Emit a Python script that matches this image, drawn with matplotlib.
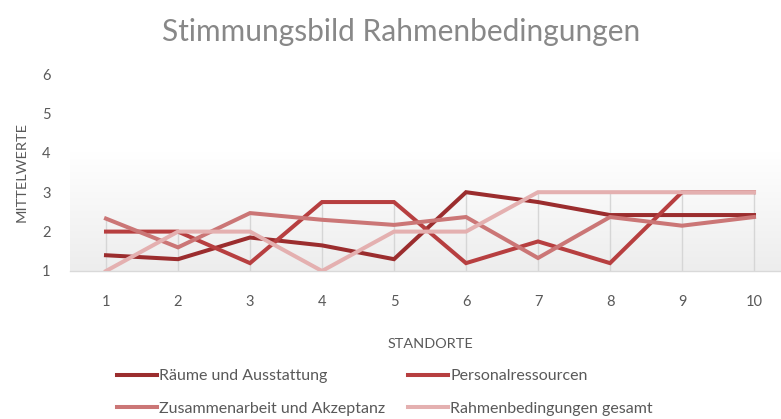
import numpy as np
import matplotlib
matplotlib.use('Agg')
import matplotlib.pyplot as plt
import matplotlib.colors as mcolors

# ================================ 数据 ================================
standorte = [1, 2, 3, 4, 5, 6, 7, 8, 9, 10]
raeume = [1.4, 1.3, 1.85, 1.65, 1.3, 3.0, 2.75, 2.42, 2.42, 2.42]
personal = [2.0, 2.0, 1.2, 2.75, 2.75, 1.2, 1.75, 1.2, 3.0, 3.0]
zusammenarbeit = [2.33, 1.6, 2.47, 2.3, 2.17, 2.37, 1.33, 2.37, 2.15, 2.37]
gesamt = [1.0, 2.0, 2.0, 1.0, 2.0, 2.0, 3.0, 3.0, 3.0, 3.0]

namen = ['Räume und Ausstattung', 'Personalressourcen',
         'Zusammenarbeit und Akzeptanz', 'Rahmenbedingungen gesamt']
farben = ['#9b2d2e', '#b73f40', '#cb7676', '#e4b0b0']

# ================================ 绘图 ================================
plt.rcParams['font.family'] = ['Lato', 'DejaVu Sans']
textfarbe = '#595959'

fig = plt.figure(figsize=(7.81, 4.19), dpi=100)
# Plotbereich (Pixel: links 70, rechts ~790, unten 271, oben 74)
ax = fig.add_axes([70 / 781, (419 - 271) / 419, 720 / 781, 197 / 419])
ax.set_xlim(0.5, 10.5)
ax.set_ylim(1, 6)

# Hintergrund-Verlauf
verlauf = np.linspace(0, 1, 256).reshape(-1, 1)
cmap_bg = mcolors.LinearSegmentedColormap.from_list(
    'bg', [(0, '#ededed'), (0.6, '#ffffff'), (1, '#ffffff')])
ax.imshow(verlauf, cmap=cmap_bg, origin='lower', aspect='auto',
          extent=[0.5, 10.5, 1, 6], zorder=0)

# Lotlinien bis zum höchsten Wert
maxima = np.max([raeume, personal, zusammenarbeit, gesamt], axis=0)
ax.vlines(standorte, 1, maxima, color='#d6d6d6', lw=1, zorder=1)

# Linien
linien = []
for werte, name, farbe in zip([raeume, personal, zusammenarbeit, gesamt], namen, farben):
    l, = ax.plot(standorte, werte, color=farbe, lw=2.9, label=name, zorder=3,
                 solid_joinstyle='miter')
    linien.append(l)

# Achsen
for s in ['top', 'right', 'left']:
    ax.spines[s].set_visible(False)
ax.spines['bottom'].set_color('#d9d9d9')
ax.spines['bottom'].set_linewidth(1)
ax.set_xticks(standorte)
ax.set_yticks([1, 2, 3, 4, 5, 6])
ax.tick_params(axis='both', length=0, labelsize=10.5, labelcolor=textfarbe)
ax.tick_params(axis='x', pad=17)
ax.tick_params(axis='y', pad=14)
ax.set_xlabel('STANDORTE', fontsize=10.4, color=textfarbe, labelpad=21)
ax.set_ylabel('MITTELWERTE', fontsize=10.4, color=textfarbe, labelpad=10)

fig.text(0.513, 0.924, 'Stimmungsbild Rahmenbedingungen', ha='center', va='center',
         fontsize=21.5, color='#888888')

# Legende (Reihenfolge zeilenweise wie im Original)
reihenfolge = [0, 2, 1, 3]
fig.legend([linien[i] for i in reihenfolge], [namen[i] for i in reihenfolge],
           loc='upper left', bbox_to_anchor=(117 / 781, 1 - 369 / 419), ncol=2,
           frameon=False, fontsize=11.5, handlelength=2.5, handletextpad=0.15,
           columnspacing=1.4, labelspacing=1.15, borderpad=0, borderaxespad=0,
           labelcolor=textfarbe)

fig.savefig('out.png', dpi=100)
